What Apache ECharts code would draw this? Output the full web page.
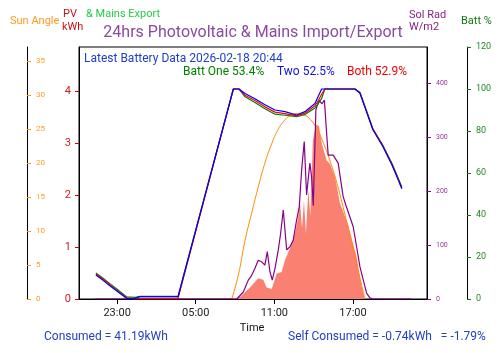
<!DOCTYPE html>
<html>
<head>
<meta charset="utf-8">
<script src="https://cdn.jsdelivr.net/npm/echarts@6/dist/echarts.min.js"></script>
<style>
  html, body { margin: 0; padding: 0; background: #fff; }
  #chart { width: 500px; height: 353px; }
</style>
</head>
<body>
<div id="chart"></div>
<script>
// time is hours from 2026-02-17 00:00
const xTicks = [23, 29, 35, 41];
const sunTicks = [0, 5, 10, 15, 20, 25, 30, 35];
const pvTicks = [0, 1, 2, 3, 4];
const radTicks = [0, 100, 200, 300, 400];
const battTicks = [0, 20, 40, 60, 80, 100, 120];

// battery state of charge (%)
const battTime = [21.38, 21.9, 22.47, 23.0, 23.74, 24.37, 24.75, 27.65, 31.87, 32.30, 32.76, 33.52, 34.28, 35.05, 35.81, 36.70, 37.33, 38.10, 38.35, 38.61, 38.85, 41.15, 41.53, 42.06, 42.52, 43.28, 43.97, 44.35, 44.73];
const battOne = [12.4, 10.0, 7.2, 4.6, 1.0, 0.8, 1.3, 1.3, 100, 100, 96.3, 93.6, 90.6, 88.0, 87.5, 86.8, 87.8, 91.0, 93.0, 95.5, 100, 100, 98.3, 89.2, 81.1, 73.2, 64.6, 59.0, 53.4];
const battTwo = [11.4, 9.0, 6.2, 3.7, 0.2, 0.3, 1.1, 1.1, 100, 100, 97.9, 95.4, 92.5, 90.0, 89.2, 87.6, 89.2, 93.1, 96.5, 100, 100, 100, 98.1, 88.7, 80.6, 72.6, 63.9, 58.3, 52.5];
const battBoth = [11.9, 9.5, 6.7, 4.1, 0.5, 0.0, 0.3, 0.3, 100, 100, 97.0, 94.5, 91.5, 89.0, 88.3, 87.2, 88.5, 92.0, 94.5, 97.5, 100, 100, 98.2, 89.0, 80.9, 72.9, 64.2, 58.6, 52.9];

// sun elevation (degrees)
const sunTime = [31.75, 32.25, 32.75, 33.25, 33.75, 34.25, 34.75, 35.25, 35.75, 36.25, 36.83, 37.25, 37.75, 38.25, 38.75, 39.25, 39.75, 40.25, 40.75, 41.25, 41.75, 41.91];
const sunAngle = [0, 3.5, 8.5, 12.5, 16.3, 19.8, 22.6, 24.8, 26.2, 27.0, 27.3, 27.1, 26.4, 25.0, 22.9, 20.3, 17.2, 13.5, 9.5, 5.3, 1.3, 0];

// PV output (kWh)
const pvTime = [31.77, 32.38, 33.14, 33.77, 34.15, 34.41, 34.80, 35.18, 35.56, 35.81, 36.19, 36.57, 36.82, 36.95, 37.11, 37.26, 37.41, 37.59, 37.75, 37.94, 38.17, 38.40, 38.61, 38.99, 39.24, 39.63, 40.00, 40.64, 41.28, 41.66, 41.91];
const pvKwh = [0, 0.04, 0.22, 0.40, 0.37, 0.22, 0.19, 0.49, 0.52, 0.75, 0.97, 1.26, 1.58, 1.9, 1.35, 1.9, 1.25, 2.1, 1.6, 3.05, 3.35, 3.33, 3.0, 2.67, 2.6, 2.35, 1.85, 1.42, 0.81, 0.24, 0];

// solar radiation (W/m2)
const radTime = [21.32, 32.13, 32.63, 33.01, 33.27, 33.52, 33.77, 34.03, 34.28, 34.46, 34.66, 34.84, 35.05, 35.30, 35.48, 35.68, 35.94, 36.19, 36.44, 36.70, 36.90, 37.08, 37.28, 37.46, 37.71, 37.84, 37.97, 38.17, 38.40, 38.63, 38.82, 38.99, 39.11, 39.49, 39.87, 40.25, 40.46, 41.02, 41.53, 42.04, 42.29, 42.52, 45.42];
const solRad = [0, 0, 13, 35, 44, 57, 72, 69, 63, 88, 51, 35, 57, 91, 122, 165, 91, 97, 109, 147, 171, 239, 292, 193, 252, 227, 173, 351, 369, 362, 369, 307, 267, 267, 252, 190, 174, 134, 60, 11, 2, 0, 0];

const pair = (t, v) => t.map((x, i) => [x, v[i]]);
const font = 'Roboto';

const chart = echarts.init(document.getElementById('chart'));

function yAx(opt) {
    return Object.assign({
        type: 'value',
        min: 0,
        splitLine: { show: false },
        axisLine: { show: true, lineStyle: { color: '#000', width: 1 } },
    }, opt);
}

function txt(x, y, text, color, size, align) {
    return {
        type: 'text',
        x: x, y: y,
        style: {
            text: text, fill: color, font: (size || 11) + 'px ' + font,
            textAlign: align || 'left', textVerticalAlign: 'middle'
        }
    };
}

const option = {
    animation: false,
    backgroundColor: '#fff',
    grid: {
        left: 79, right: 73, top: 47, bottom: 54,
        show: true, borderColor: '#000', borderWidth: 1
    },
    xAxis: {
        type: 'value',
        min: 20.09,
        max: 46.65,
        splitLine: { show: false },
        axisLine: { lineStyle: { color: '#000' } },
        axisTick: { length: 5, lineStyle: { color: '#000' }, customValues: xTicks },
        axisLabel: {
            customValues: xTicks,
            color: '#222', fontFamily: font, fontSize: 11, margin: 9,
            formatter: v => String(Math.round(v) % 24).padStart(2, '0') + ':00'
        }
    },
    yAxis: [
        yAx({
            position: 'left', offset: 52, max: 37.06,
            axisTick: { inside: true, length: 4, lineStyle: { color: '#ff9900' }, customValues: sunTicks },
            axisLabel: { inside: true, margin: 9, color: '#ffa020', fontSize: 8, fontFamily: font, customValues: sunTicks }
        }),
        yAx({
            position: 'left', offset: 0, max: 4.846,
            axisTick: { length: 4, lineStyle: { color: '#cc0000' }, customValues: pvTicks },
            axisLabel: { margin: 8, color: '#cc2020', fontSize: 11, fontFamily: font, customValues: pvTicks }
        }),
        yAx({
            position: 'right', offset: 0, max: 467.5,
            axisTick: { length: 4, lineStyle: { color: '#880088' }, customValues: radTicks },
            axisLabel: { margin: 9, color: '#993399', fontSize: 7, fontFamily: font, customValues: radTicks }
        }),
        yAx({
            position: 'right', offset: 40, max: 120,
            axisTick: { length: 4, lineStyle: { color: '#117711' }, customValues: battTicks },
            axisLabel: { margin: 9, color: '#228822', fontSize: 9, fontFamily: font, customValues: battTicks }
        })
    ],
    series: [
        {
            name: 'PV', type: 'line', yAxisIndex: 1, showSymbol: false,
            data: pair(pvTime, pvKwh),
            lineStyle: { width: 0 },
            areaStyle: { color: '#fa8072', opacity: 1 },
            z: 1
        },
        {
            name: 'Sun Angle', type: 'line', yAxisIndex: 0, showSymbol: false,
            data: pair(sunTime, sunAngle),
            smooth: true,
            lineStyle: { color: '#ff8c00', width: 1 },
            z: 2
        },
        {
            name: 'Sol Rad', type: 'line', yAxisIndex: 2, showSymbol: false,
            data: pair(radTime, solRad),
            lineStyle: { color: '#8b008b', width: 1.2 },
            z: 3
        },
        {
            name: 'Batt One', type: 'line', yAxisIndex: 3, showSymbol: false,
            data: pair(battTime, battOne),
            lineStyle: { color: '#008000', width: 1.2 },
            z: 4
        },
        {
            name: 'Both', type: 'line', yAxisIndex: 3, showSymbol: false,
            data: pair(battTime, battBoth),
            lineStyle: { color: '#ff0000', width: 1.2 },
            z: 5
        },
        {
            name: 'Two', type: 'line', yAxisIndex: 3, showSymbol: false,
            data: pair(battTime, battTwo),
            lineStyle: { color: '#0000ff', width: 1.2 },
            z: 6
        }
    ],
    graphic: [
        txt(253, 33, '24hrs Photovoltaic & Mains Import/Export', '#8a4a9e', 16, 'center'),
        txt(10, 21, 'Sun Angle', '#ff9a20', 11),
        txt(63, 14, 'PV', '#cc1111', 11),
        txt(62, 27, 'kWh', '#cc1111', 11),
        txt(86, 14, '& Mains Export', '#22cc44', 11),
        txt(409, 15, 'Sol Rad', '#882288', 11),
        txt(409, 27, 'W/m2', '#882288', 11),
        txt(461, 21, 'Batt %', '#117711', 11),
        txt(84, 59, 'Latest Battery Data 2026-02-18 20:44', '#2040c8', 12),
        txt(183, 72, 'Batt One 53.4%', '#008000', 12),
        txt(277, 72, 'Two 52.5%', '#1010e0', 12),
        txt(347, 72, 'Both 52.9%', '#ee0000', 12),
        txt(252, 328, 'Time', '#111', 11, 'center'),
        txt(44, 337, 'Consumed = 41.19kWh', '#2040c8', 12),
        txt(288, 337, 'Self Consumed = -0.74kWh   = -1.79%', '#2040c8', 12)
    ]
};

chart.setOption(option);
</script>
</body>
</html>
